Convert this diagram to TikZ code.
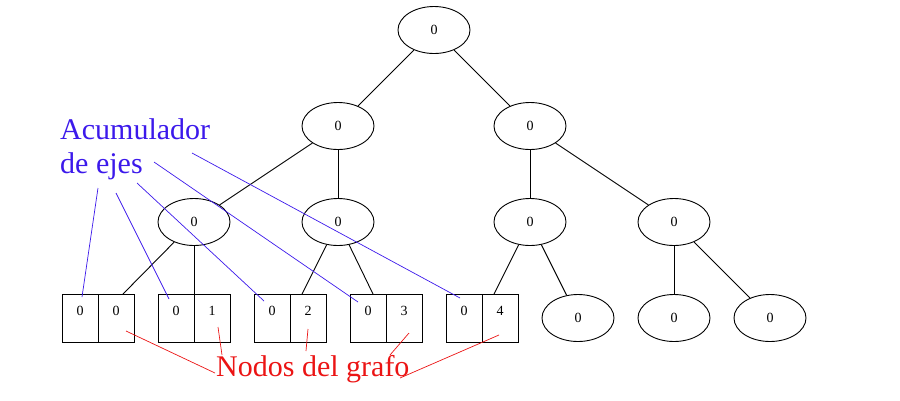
\documentclass[tikz,border=0pt]{standalone}
\usepackage{fontspec}
\setmainfont{Liberation Serif}
\usetikzlibrary{shapes.geometric}
\definecolor{accblue}{RGB}{60,25,235}
\definecolor{nodred}{RGB}{235,20,20}
\begin{document}
\begin{tikzpicture}[x=1pt,y=-1pt,
  tnode/.style={draw,ellipse,line width=0.9pt,minimum width=72pt,minimum height=47pt,inner sep=0pt,font=\fontsize{14}{16}\selectfont},
  cell/.style={draw,rectangle,line width=0.9pt,minimum width=36pt,minimum height=48pt,inner sep=0pt},
  digit/.style={inner sep=0pt,font=\fontsize{14}{16}\selectfont},
  edge/.style={line width=0.9pt},
  bline/.style={accblue,line width=0.7pt},
  rline/.style={nodred,line width=0.7pt},
  btext/.style={accblue,inner sep=0pt,anchor=base west,font=\fontsize{30}{34}\selectfont},
  rtext/.style={nodred,inner sep=0pt,anchor=base west,font=\fontsize{30}{34}\selectfont}]
\useasboundingbox (0,0) rectangle (900,400);
% tree nodes
\node[tnode] (r) at (434,30) {0};
\node[tnode] (a) at (338,126) {0};
\node[tnode] (b) at (530,126) {0};
\node[tnode] (aa) at (194,222) {0};
\node[tnode] (ab) at (338,222) {0};
\node[tnode] (ba) at (530,222) {0};
\node[tnode] (bb) at (674,222) {0};
\node[tnode] (l6) at (578,318) {0};
\node[tnode] (l7) at (674,318) {0};
\node[tnode] (l8) at (770,318) {0};
% record cells
\foreach \i/\x/\v in {1/62/0,2/158/1,3/254/2,4/350/3,5/446/4}{
  \node[cell] (c\i a) at (\x+18,318) {};
  \node[cell] (c\i b) at (\x+54,318) {};
  \node[digit] (d\i a) at (\x+18,310.5) {0};
  \node[digit] (d\i b) at (\x+54,310.5) {\v};
}
% edge targets on record tops
\coordinate (t1) at (123,294);
\coordinate (t2) at (194,294);
\coordinate (t3) at (302,294);
\coordinate (t4) at (373,294);
\coordinate (t5) at (494,294);
% tree edges
\draw[edge] (r) -- (a);
\draw[edge] (r) -- (b);
\draw[edge] (a) -- (aa);
\draw[edge] (a) -- (ab);
\draw[edge] (b) -- (ba);
\draw[edge] (b) -- (bb);
\draw[edge] (aa) -- (t1);
\draw[edge] (aa) -- (t2);
\draw[edge] (ab) -- (t3);
\draw[edge] (ab) -- (t4);
\draw[edge] (ba) -- (t5);
\draw[edge] (ba) -- (l6);
\draw[edge] (bb) -- (l7);
\draw[edge] (bb) -- (l8);
% labels
\node[btext] (acc1) at (60,139) {Acumulador};
\node[btext] (acc2) at (60,173) {de ejes};
\node[rtext] (nod) at (216,376) {Nodos del grafo};
% blue pointer lines
\coordinate (bs1) at (98,188);  \coordinate (be1) at (82,297);
\coordinate (bs2) at (116,193); \coordinate (be2) at (169,299);
\coordinate (bs3) at (137,183); \coordinate (be3) at (264,301);
\coordinate (bs4) at (154,162); \coordinate (be4) at (358,302);
\coordinate (bs5) at (192,153); \coordinate (be5) at (460,298);
\foreach \i in {1,...,5}{\draw[bline] (bs\i) -- (be\i);}
% red pointer lines
\coordinate (rs1) at (126,331); \coordinate (re1) at (215,373);
\coordinate (rs2) at (218,327); \coordinate (re2) at (222,355);
\coordinate (rs3) at (308,329); \coordinate (re3) at (306,351);
\coordinate (rs4) at (409,333); \coordinate (re4) at (390,355);
\coordinate (rs5) at (499,335); \coordinate (re5) at (400,378);
\foreach \i in {1,...,5}{\draw[rline] (rs\i) -- (re\i);}
\end{tikzpicture}
\end{document}
